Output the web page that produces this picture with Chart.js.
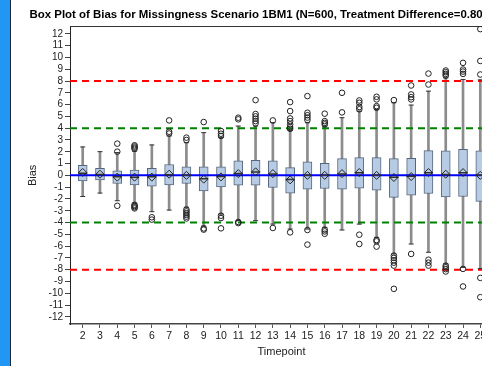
<!DOCTYPE html>
<html><head><meta charset="utf-8">
<script src="https://cdn.jsdelivr.net/npm/chart.js@4/dist/chart.umd.min.js"></script>
<style>
html,body{margin:0;padding:0;width:482px;height:366px;overflow:hidden;background:#fff;}
#strip{position:absolute;left:0;top:0;width:10px;height:366px;background:#2196F3;border-right:1px solid #1b2a3a;}
#wrap{position:absolute;left:11px;top:0;width:504px;height:366px;}
</style></head><body>
<div id="strip"></div>
<div id="wrap"><canvas id="c" width="504" height="366"></canvas></div>
<script>
const timepoints = [2,3,4,5,6,7,8,9,10,11,12,13,14,15,16,17,18,19,20,21,22,23,24,25];
const q1 = [-0.46,-0.38,-0.69,-0.80,-0.92,-0.80,-0.69,-1.31,-0.97,-0.83,-0.83,-1.03,-1.50,-1.17,-1.11,-1.17,-1.08,-1.25,-1.87,-1.68,-1.54,-1.82,-1.79,-2.21];
const q3 = [0.86,0.60,0.38,0.44,0.60,0.92,0.72,0.72,0.72,1.23,1.28,1.23,0.66,1.14,1.03,1.42,1.51,1.51,1.42,1.45,2.10,2.07,2.21,2.07];
const median = [0.18,0.08,-0.12,-0.15,-0.12,0.05,0.00,-0.28,-0.10,0.15,0.28,0.12,-0.35,0.00,0.00,0.12,0.22,0.00,-0.15,-0.08,0.22,0.08,0.22,0.00];
const mean = [0.25,0.10,-0.15,-0.15,-0.15,0.10,0.00,-0.32,-0.13,0.15,0.30,0.15,-0.38,0.00,0.00,0.15,0.24,0.00,-0.18,-0.10,0.24,0.10,0.24,0.00];
const whiskerLow = [-1.79,-1.50,-2.15,-2.35,-3.08,-2.94,-2.70,-4.30,-3.28,-3.84,-3.84,-4.13,-4.55,-4.55,-4.41,-4.63,-4.13,-5.25,-6.66,-5.82,-6.52,-7.50,-7.80,-7.90];
const whiskerHigh = [2.41,2.01,1.93,2.05,2.58,3.34,2.77,3.62,3.20,4.18,4.18,4.46,3.80,4.46,4.18,4.89,5.45,5.59,6.15,5.96,7.14,8.27,8.13,8.10];
const outliers = [
  [],
  [],
  [2.69,2.01,-2.58],
  [2.55,2.45,2.35,2.25,-2.5,-2.6,-2.7,-2.8],
  [-3.55,-3.75],
  [4.66,3.70,3.55],
  [3.20,3.00,-2.9,-3.05,-3.2,-3.35,-3.5,-3.65],
  [4.52,-4.5,-4.6],
  [3.76,3.53,3.34,-3.42,-3.62,-4.49],
  [4.89,4.75,-3.95,-4.05],
  [6.38,5.2,5.0,4.8,4.6,4.4],
  [4.66,-4.46],
  [6.21,5.45,4.83,4.6,4.32,4.1,3.95,-4.83],
  [6.72,5.31,5.1,4.9,4.7,-4.63,-5.87],
  [5.23,4.6,4.45,4.32,-4.6,-4.75,-4.95],
  [7.0,5.34],
  [6.35,6.15,5.8,5.6,-5.03,-5.82],
  [6.66,6.44,5.87,5.73,-5.48,-5.59,-6.04],
  [6.38,-6.8,-7.0,-7.2,-7.4,-7.65,-9.62],
  [7.62,6.86,6.63,6.44,-6.66],
  [8.63,7.7,-7.15,-7.4,-7.65],
  [8.89,8.75,8.6,8.45,-7.65,-7.8,-7.95,-8.15],
  [9.54,8.97,8.8,8.6,-7.93,-9.42],
  [12.4,9.7,8.55,-8.69,-10.33]
];
const refValues = [8, 4, 0, -4, -8];
const yTicks = [-12,-11,-10,-9,-8,-7,-6,-5,-4,-3,-2,-1,0,1,2,3,4,5,6,7,8,9,10,11,12];
const titleText = 'Box Plot of Bias for Missingness Scenario 1BM1 (N=600, Treatment Difference=0.80)';

const F = "'Liberation Sans', Arial, sans-serif";
const pts = arr => timepoints.map((t,i)=>({x:t, y:arr[i]}));
const outlierPts = [];
outliers.forEach((list,i)=>list.forEach(v=>outlierPts.push({x:timepoints[i], y:v})));
const refStyle = v => v === 0 ? {c:'#0000FF', d:[]} : (Math.abs(v) === 8 ? {c:'#FF0000', d:[7,5]} : {c:'#008000', d:[7,5]});

const datasets = [
  {type:'bar', xAxisID:'x', yAxisID:'y', data: timepoints.map((t,i)=>({x:t, y:[whiskerLow[i], whiskerHigh[i]]})),
   backgroundColor:'#8c8c8c', borderWidth:0, barThickness:2, grouped:false, order:10},
  {type:'bar', xAxisID:'x', yAxisID:'y', data: timepoints.map((t,i)=>({x:t, y:[q1[i], q3[i]]})),
   backgroundColor:'#B7CCE4', borderColor:'#56677d', borderWidth:1, borderSkipped:false, barThickness:9, grouped:false, order:9},
  ...refValues.map(v=>({type:'line', xAxisID:'xr', yAxisID:'y', data:[{x:0,y:v},{x:1,y:v}],
   borderColor:refStyle(v).c, borderDash:refStyle(v).d, borderWidth:2, pointRadius:0, order:5})),
  {type:'line', xAxisID:'x', yAxisID:'y', data: pts(whiskerLow), showLine:false, pointStyle:'line', pointRadius:2.5, borderColor:'#333', borderWidth:1, order:4},
  {type:'line', xAxisID:'x', yAxisID:'y', data: pts(whiskerHigh), showLine:false, pointStyle:'line', pointRadius:2.5, borderColor:'#333', borderWidth:1, order:4},
  {type:'line', xAxisID:'x', yAxisID:'y', data: pts(median), showLine:false, pointStyle:'line', pointRadius:4.5, borderColor:'#333', borderWidth:1.5, order:4},
  {type:'line', xAxisID:'x', yAxisID:'y', data: pts(mean), showLine:false, pointStyle:'rectRot', pointRadius:4, borderColor:'#222', backgroundColor:'rgba(0,0,0,0)', borderWidth:1, order:2},
  {type:'line', xAxisID:'x', yAxisID:'y', data: outlierPts, showLine:false, pointStyle:'circle', pointRadius:2.8, borderColor:'#222', backgroundColor:'rgba(0,0,0,0)', borderWidth:1, order:1}
];

new Chart(document.getElementById('c'), {
  type:'bar',
  data:{datasets},
  options:{
    responsive:false, animation:false, devicePixelRatio:1, events:[],
    layout:{padding:{left:0,right:10,top:0,bottom:2}},
    plugins:{
      legend:{display:false}, tooltip:{enabled:false},
      title:{display:true, text:titleText, color:'#000', font:{family:F, size:11.45, weight:'bold'}, padding:{top:8,bottom:5}}
    },
    scales:{
      x:{type:'linear', position:'bottom', min:1.266, max:25.734, offset:false,
        afterBuildTicks:s=>{ s.ticks = timepoints.map(v=>({value:v})); },
        afterFit:s=>{ s.height = 40; },
        ticks:{font:{family:F,size:10.5}, color:'#222', padding:2, maxRotation:0, autoSkip:false},
        grid:{drawOnChartArea:false, tickLength:4, color:'#555', offset:false},
        border:{color:'#444', width:1.5},
        title:{display:true, text:'Timepoint', font:{family:F,size:11}, color:'#222', padding:{top:5,bottom:5}}},
      y:{min:-12.6, max:12.6,
        afterBuildTicks:s=>{ s.ticks = yTicks.map(v=>({value:v})); },
        afterFit:s=>{ s.width = 59; },
        ticks:{font:{family:F,size:10}, color:'#222', padding:2, autoSkip:false},
        grid:{drawOnChartArea:false, tickLength:5, color:'#444'},
        border:{color:'#222', width:1},
        title:{display:true, text:'Bias', font:{family:F,size:11}, color:'#222', padding:{top:15,bottom:15}}},
      xr:{type:'linear', position:'top', min:0, max:1, offset:false, ticks:{display:false}, grid:{display:false, drawTicks:false, offset:false},
        border:{display:true, color:'#333', width:1}, afterFit:s=>{ s.height = 0; }},
      yr:{type:'linear', position:'right', min:0, max:1, ticks:{display:false}, grid:{display:false, drawTicks:false},
        border:{display:false}, afterFit:s=>{ s.width = 12; }}
    }
  }
});
</script>
</body></html>
